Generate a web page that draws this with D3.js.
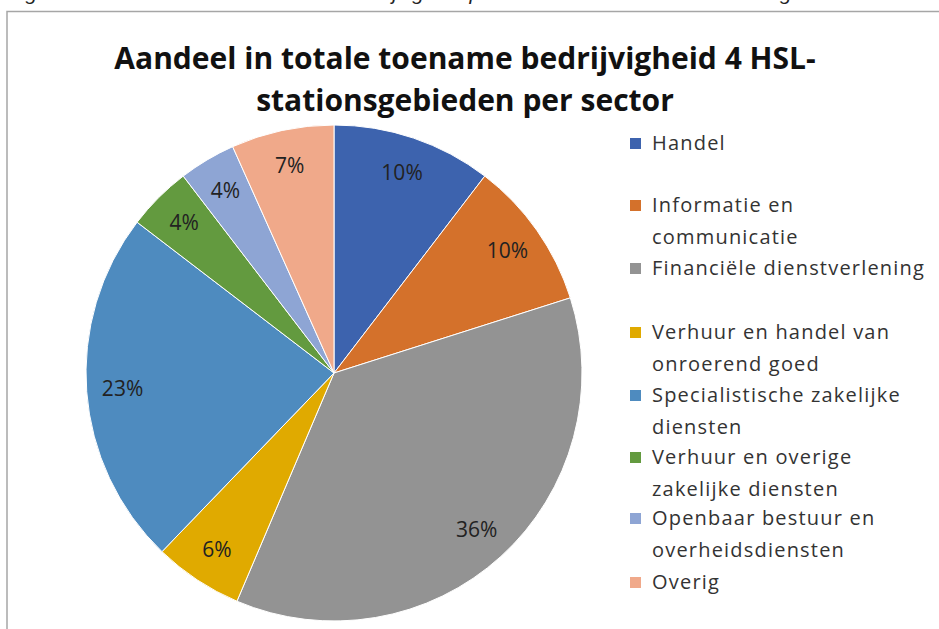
<!DOCTYPE html>
<html>
<head>
<meta charset="utf-8">
<script src="https://cdn.jsdelivr.net/npm/d3@7"></script>
<style>
  body { margin: 0; background: #fff; }
  svg { display: block; }
</style>
</head>
<body>
<div id="chart"></div>
<script>
// Gegevens
const sectoren = [
  'Handel',
  'Informatie en communicatie',
  'Financiële dienstverlening',
  'Verhuur en handel van onroerend goed',
  'Specialistische zakelijke diensten',
  'Verhuur en overige zakelijke diensten',
  'Openbaar bestuur en overheidsdiensten',
  'Overig'
];
const aandeel = [10.4, 9.7, 36.3, 5.8, 23.2, 4.2, 3.7, 6.7];
const kleuren = ['#3d63ae', '#d4712b', '#939393', '#e0aa00', '#4e8bbf', '#639a3f', '#8ea5d4', '#f0a98a'];
// legenda-regels (zoals afgebroken in het origineel)
const legendaRegels = [
  ['Handel'],
  ['Informatie en', 'communicatie'],
  ['Financiële dienstverlening'],
  ['Verhuur en handel van', 'onroerend goed'],
  ['Specialistische zakelijke', 'diensten'],
  ['Verhuur en overige', 'zakelijke diensten'],
  ['Openbaar bestuur en', 'overheidsdiensten'],
  ['Overig']
];
const legendaY = [143, 205, 268, 332, 395, 457, 518, 582];
const titelRegels = ['Aandeel in totale toename bedrijvigheid 4 HSL-', 'stationsgebieden per sector'];

const width = 939, height = 629;
const font = "'Open Sans', 'Noto Sans', sans-serif";

const svg = d3.select('#chart').append('svg')
  .attr('width', width)
  .attr('height', height);

// Afgesneden bijschrift bovenaan
svg.append('text')
  .attr('x', 8).attr('y', 0)
  .attr('font-family', "'Liberation Sans', sans-serif")
  .attr('font-size', 21)
  .attr('font-style', 'italic')
  .attr('fill', '#222')
  .text('Figuur 6: Aandeel in totale toename bedrijvigheid per sector in de vier HSL-stationsgebieden');

// Kader
svg.append('path')
  .attr('d', 'M7,629 V11.5 H939')
  .attr('fill', 'none')
  .attr('stroke', '#a6a6a6')
  .attr('stroke-width', 1.5);

// Titel
const titel = svg.append('g');
titelRegels.forEach((t, i) => {
  titel.append('text')
    .attr('x', 465)
    .attr('y', 69 + i * 42)
    .attr('text-anchor', 'middle')
    .attr('font-family', font)
    .attr('font-weight', 'bold')
    .attr('font-size', 30)
    .attr('fill', '#111')
    .text(t);
});

// Taartdiagram
const cx = 334, cy = 373, r = 248;
const pie = d3.pie().sort(null).value(d => d);
const arcs = pie(aandeel);
const arc = d3.arc().innerRadius(0).outerRadius(r);
const labelArc = d3.arc().innerRadius(r * 0.855).outerRadius(r * 0.855);
const totaal = d3.sum(aandeel);

const g = svg.append('g').attr('transform', `translate(${cx},${cy})`);
g.selectAll('path')
  .data(arcs)
  .enter().append('path')
  .attr('d', arc)
  .attr('fill', (d, i) => kleuren[i])
  .attr('stroke', '#fff')
  .attr('stroke-width', 1);

g.selectAll('text')
  .data(arcs)
  .enter().append('text')
  .attr('transform', d => `translate(${labelArc.centroid(d)})`)
  .attr('text-anchor', 'middle')
  .attr('dy', '0.35em')
  .attr('font-family', font)
  .attr('font-size', 21)
  .attr('fill', '#222')
  .text(d => Math.round(d.data / totaal * 100) + '%');

// Legenda
const legenda = svg.append('g');
legendaRegels.forEach((regels, i) => {
  const y = legendaY[i];
  legenda.append('rect')
    .attr('x', 630).attr('y', y - 5)
    .attr('width', 11).attr('height', 11)
    .attr('fill', kleuren[i]);
  regels.forEach((t, j) => {
    legenda.append('text')
      .attr('x', 652)
      .attr('y', y + j * 32)
      .attr('dy', '0.35em')
      .attr('font-family', font)
      .attr('font-size', 20)
      .attr('letter-spacing', 1.2)
      .attr('fill', '#333')
      .text(t);
  });
});
</script>
</body>
</html>
